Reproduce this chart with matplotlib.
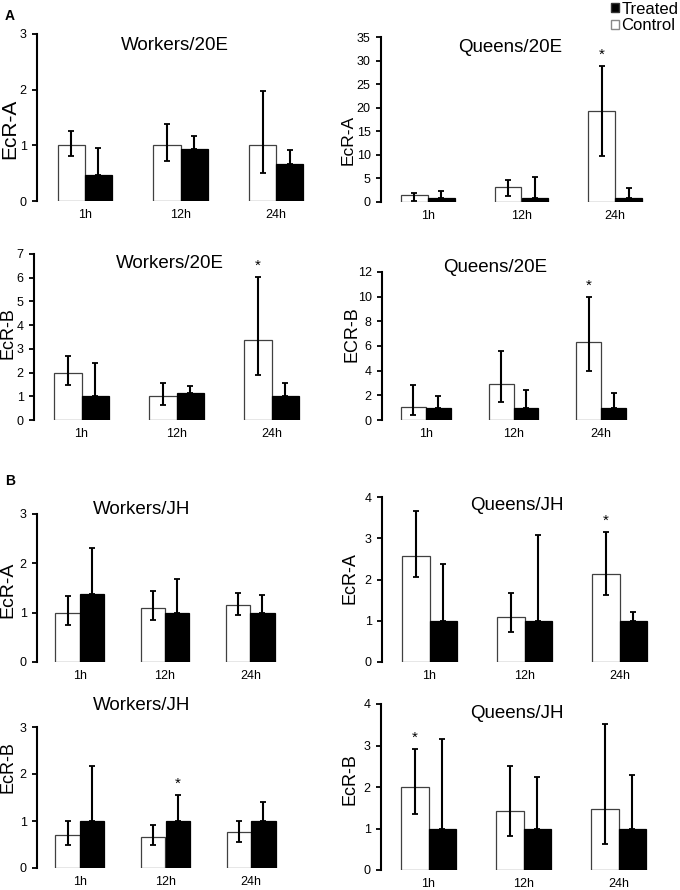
import matplotlib
matplotlib.use("Agg")
import matplotlib.pyplot as plt
from matplotlib.patches import Patch
import numpy as np

plt.rcParams['font.family'] = ['Liberation Sans', 'DejaVu Sans']

times = ["1h", "12h", "24h"]

# control: mean, lower, upper ; treated: mean, upper (one-sided)
wa20_ctrl = [1.0, 1.0, 1.0]
wa20_ctrl_lo = [0.81, 0.72, 0.50]
wa20_ctrl_hi = [1.25, 1.38, 1.98]
wa20_trt = [0.47, 0.93, 0.67]
wa20_trt_hi = [0.96, 1.17, 0.92]

qa20_ctrl = [1.41, 3.25, 19.2]
qa20_ctrl_lo = [0.3, 1.35, 9.8]
qa20_ctrl_hi = [1.9, 4.67, 28.9]
qa20_trt = [0.9, 0.9, 0.9]
qa20_trt_hi = [2.4, 5.4, 3.0]

wb20_ctrl = [1.99, 1.0, 3.39]
wb20_ctrl_lo = [1.49, 0.63, 1.9]
wb20_ctrl_hi = [2.68, 1.55, 6.04]
wb20_trt = [1.0, 1.15, 1.0]
wb20_trt_hi = [2.39, 1.45, 1.58]

qb20_ctrl = [1.06, 2.93, 6.31]
qb20_ctrl_lo = [0.41, 1.49, 4.01]
qb20_ctrl_hi = [2.85, 5.61, 9.95]
qb20_trt = [1.0, 1.0, 1.0]
qb20_trt_hi = [1.98, 2.44, 2.22]

wajh_ctrl = [1.0, 1.10, 1.16]
wajh_ctrl_lo = [0.76, 0.85, 0.95]
wajh_ctrl_hi = [1.33, 1.44, 1.40]
wajh_trt = [1.37, 1.0, 1.0]
wajh_trt_hi = [2.32, 1.68, 1.35]

qajh_ctrl = [2.58, 1.10, 2.13]
qajh_ctrl_lo = [2.06, 0.73, 1.62]
qajh_ctrl_hi = [3.67, 1.68, 3.16]
qajh_trt = [1.0, 1.0, 1.0]
qajh_trt_hi = [2.38, 3.09, 1.22]

wbjh_ctrl = [0.70, 0.67, 0.76]
wbjh_ctrl_lo = [0.48, 0.48, 0.56]
wbjh_ctrl_hi = [1.01, 0.92, 1.0]
wbjh_trt = [1.0, 1.0, 1.0]
wbjh_trt_hi = [2.16, 1.56, 1.40]

qbjh_ctrl = [1.99, 1.42, 1.46]
qbjh_ctrl_lo = [1.35, 0.82, 0.63]
qbjh_ctrl_hi = [2.91, 2.51, 3.52]
qbjh_trt = [1.0, 1.0, 1.0]
qbjh_trt_hi = [3.15, 2.23, 2.29]

W, H = 680, 890

# (box px: left, right, top, bottom), title, title px, ylabel, ylabel px, ylabel size, ymax, ystep, data, stars
panels = [
    ((37, 324, 34, 201), "Workers/20E", (175, 45), "EcR-A", (10, 129), 15, 3, 1,
     (wa20_ctrl, wa20_ctrl_lo, wa20_ctrl_hi, wa20_trt, wa20_trt_hi), []),
    ((381, 662, 37, 202), "Queens/20E", (510, 47), "EcR-A", (348, 140), 12.5, 35, 5,
     (qa20_ctrl, qa20_ctrl_lo, qa20_ctrl_hi, qa20_trt, qa20_trt_hi), [(2, "c")]),
    ((34, 319, 254, 420), "Workers/20E", (170, 263), "EcR-B", (8, 333), 13, 7, 1,
     (wb20_ctrl, wb20_ctrl_lo, wb20_ctrl_hi, wb20_trt, wb20_trt_hi), [(2, "c")]),
    ((382, 645, 272, 420), "Queens/20E", (495, 268), "ECR-B", (352, 334), 13, 12, 2,
     (qb20_ctrl, qb20_ctrl_lo, qb20_ctrl_hi, qb20_trt, qb20_trt_hi), [(2, "c")]),
    ((37, 293, 514, 662), "Workers/JH", (142, 510), "EcR-A", (8, 590), 14, 3, 1,
     (wajh_ctrl, wajh_ctrl_lo, wajh_ctrl_hi, wajh_trt, wajh_trt_hi), []),
    ((382, 667, 497, 662), "Queens/JH", (517, 505), "EcR-A", (350, 578), 13, 4, 1,
     (qajh_ctrl, qajh_ctrl_lo, qajh_ctrl_hi, qajh_trt, qajh_trt_hi), [(2, "c")]),
    ((37, 294, 727, 868), "Workers/JH", (142, 706), "EcR-B", (8, 767), 13, 3, 1,
     (wbjh_ctrl, wbjh_ctrl_lo, wbjh_ctrl_hi, wbjh_trt, wbjh_trt_hi), [(1, "t")]),
    ((381, 666, 704, 870), "Queens/JH", (517, 713), "EcR-B", (350, 779), 13, 4, 1,
     (qbjh_ctrl, qbjh_ctrl_lo, qbjh_ctrl_hi, qbjh_trt, qbjh_trt_hi), [(0, "c")]),
]

fig = plt.figure(figsize=(W / 100, H / 100), dpi=100)

bw = 0.285
x = np.arange(len(times))

for box, title, tpos, ylab, ypos, ysize, ymax, ystep, data, stars in panels:
    l, r, t, b = box
    ax = fig.add_axes([l / W, 1 - b / H, (r - l) / W, (b - t) / H])
    ctrl, lo, hi, trt, trt_hi = [np.array(d) for d in data]

    ax.bar(x - bw / 2, ctrl, bw, color="white", edgecolor="#404040", linewidth=0.9, zorder=2)
    ax.bar(x + bw / 2, trt, bw, color="black", edgecolor="black", linewidth=0.9, zorder=2)
    ax.errorbar(x - bw / 2, ctrl, yerr=[ctrl - lo, hi - ctrl], fmt="none", ecolor="black",
                elinewidth=1.5, capsize=2, capthick=1.3, zorder=3)
    ax.errorbar(x + bw / 2, trt, yerr=[np.zeros(3), trt_hi - trt], fmt="none", ecolor="black",
                elinewidth=1.5, capsize=2, capthick=1.3, zorder=3)

    for gi, which in stars:
        if which == "c":
            sx, sy = x[gi] - bw / 2, hi[gi]
        else:
            sx, sy = x[gi] + bw / 2, trt_hi[gi]
        ax.annotate("*", (sx, sy), xytext=(0, 3), textcoords="offset points",
                    ha="center", va="bottom", fontsize=11)

    ax.set_xlim(-0.5, 2.5)
    ax.set_ylim(0, ymax)
    ax.set_yticks(np.arange(0, ymax + ystep / 2, ystep))
    ax.set_xticks(x)
    ax.set_xticklabels(times, fontsize=9)
    ax.tick_params(axis="x", length=0, pad=6)
    ax.tick_params(axis="y", length=3.5, width=1.3, labelsize=9, pad=4)
    for s in ["top", "right", "bottom"]:
        ax.spines[s].set_visible(False)
    ax.spines["left"].set_linewidth(1.5)

    fig.text(tpos[0] / W, 1 - tpos[1] / H, title, ha="center", va="center", fontsize=13.5)
    fig.text(ypos[0] / W, 1 - ypos[1] / H, ylab, ha="center", va="center",
             rotation=90, fontsize=ysize)

fig.text(10 / W, 1 - 16 / H, "A", ha="center", va="center", fontsize=10, fontweight="bold")
fig.text(10 / W, 1 - 481 / H, "B", ha="center", va="center", fontsize=10, fontweight="bold")

handles = [Patch(facecolor="black", edgecolor="#333333", label="Treated"),
           Patch(facecolor="white", edgecolor="#888888", label="Control")]
fig.legend(handles=handles, loc="upper right", bbox_to_anchor=(1.0, 1.0), frameon=False,
           fontsize=12, handlelength=0.45, handleheight=0.45, handletextpad=0.15,
           borderpad=0, borderaxespad=0.1, labelspacing=0.1)

fig.savefig("out.png", dpi=100)
